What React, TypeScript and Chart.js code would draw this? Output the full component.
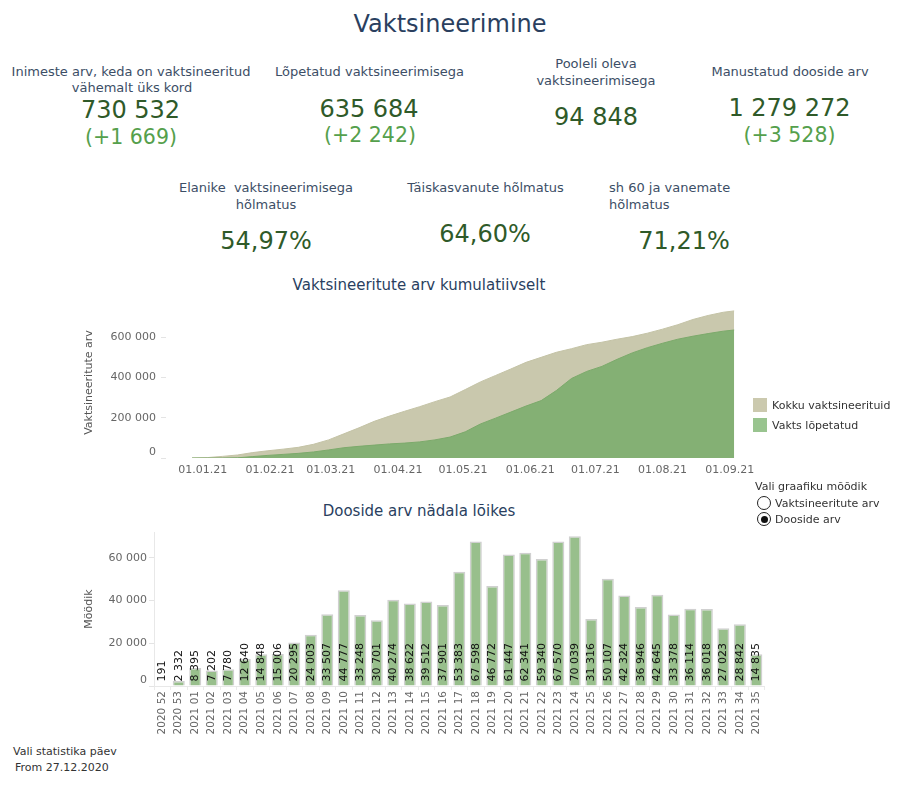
import React, { useEffect, useRef } from 'react';
import { Chart, registerables } from 'chart.js';

Chart.register(...registerables);
Chart.defaults.font.family = '"DejaVu Sans", sans-serif';

// ---------- data ----------
const cumDates = [
  '2020-12-27', '2021-01-03', '2021-01-10', '2021-01-17', '2021-01-24', '2021-01-31',
  '2021-02-07', '2021-02-14', '2021-02-21', '2021-02-28', '2021-03-07', '2021-03-14',
  '2021-03-21', '2021-03-28', '2021-04-04', '2021-04-11', '2021-04-18', '2021-04-25',
  '2021-05-02', '2021-05-09', '2021-05-16', '2021-05-23', '2021-05-30', '2021-06-06',
  '2021-06-13', '2021-06-20', '2021-06-27', '2021-07-04', '2021-07-11', '2021-07-18',
  '2021-07-25', '2021-08-01', '2021-08-08', '2021-08-15', '2021-08-22', '2021-08-29',
  '2021-09-03',
];
const cumTotal = [
  0, 2000, 8000, 15000, 27000, 36000,
  44000, 53000, 68000, 90000, 120000, 150000,
  182000, 208000, 232000, 255000, 280000, 303000,
  340000, 378000, 410000, 442000, 475000, 500000,
  525000, 543000, 563000, 575000, 590000, 603000,
  620000, 640000, 662000, 688000, 708000, 724000,
  730532,
];
const cumDone = [
  0, 0, 0, 1000, 7000, 13000,
  18000, 23000, 30000, 40000, 51000, 58000,
  64000, 70000, 74000, 80000, 90000, 104000,
  130000, 169000, 198000, 228000, 258000, 285000,
  335000, 395000, 430000, 455000, 490000, 522000,
  548000, 570000, 590000, 605000, 618000, 630000,
  635684,
];
const monthTicks = [
  '2021-01-01', '2021-02-01', '2021-03-01', '2021-04-01', '2021-05-01',
  '2021-06-01', '2021-07-01', '2021-08-01', '2021-09-01',
];
const areaYTicks = [0, 200000, 400000, 600000];

const weekLabels = [
  '2020 52', '2020 53', '2021 01', '2021 02', '2021 03', '2021 04', '2021 05', '2021 06',
  '2021 07', '2021 08', '2021 09', '2021 10', '2021 11', '2021 12', '2021 13', '2021 14',
  '2021 15', '2021 16', '2021 17', '2021 18', '2021 19', '2021 20', '2021 21', '2021 22',
  '2021 23', '2021 24', '2021 25', '2021 26', '2021 27', '2021 28', '2021 29', '2021 30',
  '2021 31', '2021 32', '2021 33', '2021 34', '2021 35',
];
const weeklyDoses = [
  191, 2332, 8395, 7202, 7780, 12640, 14848, 15006,
  20295, 24003, 33507, 44777, 33248, 30701, 40274, 38622,
  39512, 37901, 53383, 67598, 46772, 61447, 62341, 59340,
  67570, 70039, 31316, 50107, 42324, 36946, 42645, 33378,
  36114, 36018, 27023, 28842, 14835,
];
const barYTicks = [0, 20000, 40000, 60000];

// ---------- helpers ----------
const fmt = (n: number) => String(n).replace(/\B(?=(\d{3})+(?!\d))/g, ' ');
const dayIdx = (s: string) => {
  const [y, m, d] = s.split('-').map(Number);
  return (Date.UTC(y, m - 1, d) - Date.UTC(2021, 0, 1)) / 86400000;
};
const dateLabel = (s: string) => `${s.slice(8, 10)}.${s.slice(5, 7)}.${s.slice(2, 4)}`;

const TITLE = '#2a3f5f';
const LABEL = '#3c4e66';
const VALUE = '#2f5a29';
const DELTA = '#55a04c';

type TProps = { x: number; y: number; size: number; color: string; align?: 'center' | 'left'; children: React.ReactNode };
const T = ({ x, y, size, color, align = 'center', children }: TProps) => (
  <div
    style={{
      position: 'absolute',
      left: x,
      top: y,
      transform: align === 'center' ? 'translate(-50%, -50%)' : 'translate(0, -50%)',
      fontSize: size,
      lineHeight: 1,
      color,
      whiteSpace: 'nowrap',
      fontFamily: '"DejaVu Sans", sans-serif',
    }}
  >
    {children}
  </div>
);

const barLabelPlugin = {
  id: 'barLabels',
  afterDatasetsDraw(chart: any) {
    const ctx = chart.ctx;
    const meta = chart.getDatasetMeta(0);
    ctx.save();
    ctx.font = '11px "DejaVu Sans", sans-serif';
    ctx.fillStyle = '#111';
    ctx.textAlign = 'left';
    ctx.textBaseline = 'middle';
    meta.data.forEach((el: any, i: number) => {
      const { x, base } = el.getProps(['x', 'base'], true);
      ctx.save();
      ctx.translate(x, base - 4);
      ctx.rotate(-Math.PI / 2);
      ctx.fillText(fmt(weeklyDoses[i]), 0, 0);
      ctx.restore();
    });
    ctx.restore();
  },
};

// the "0" tick label sits a little above its tick in the original
const zeroLabelPlugin = {
  id: 'zeroLabel',
  afterDraw(chart: any) {
    const y = chart.scales.y;
    const ctx = chart.ctx;
    ctx.save();
    ctx.font = '11px "DejaVu Sans", sans-serif';
    ctx.fillStyle = '#666';
    ctx.textAlign = 'right';
    ctx.textBaseline = 'middle';
    const gap = y.options.grid.tickLength + y.options.ticks.padding;
    ctx.fillText('0', y.right - gap, y.getPixelForValue(0) - 6);
    ctx.restore();
  },
};

const tickFmt = (v: any) => (Number(v) === 0 ? '' : fmt(Number(v)));

export default function App() {
  const areaRef = useRef<HTMLCanvasElement>(null);
  const barRef = useRef<HTMLCanvasElement>(null);

  useEffect(() => {
    const tickMap = new Map(monthTicks.map((d) => [dayIdx(d), dateLabel(d)]));
    const area = new Chart(areaRef.current!, {
      type: 'line',
      data: {
        datasets: [
          {
            label: 'Kokku vaktsineerituid',
            data: cumDates.map((d, i) => ({ x: dayIdx(d), y: cumTotal[i] })),
            backgroundColor: '#c9c8ad',
            borderColor: '#c4c3a6',
            borderWidth: 1,
            fill: 'origin',
            pointRadius: 0,
            tension: 0,
            order: 2,
          },
          {
            label: 'Vakts lõpetatud',
            data: cumDates.map((d, i) => ({ x: dayIdx(d), y: cumDone[i] })),
            backgroundColor: '#84b074',
            borderColor: '#7caa6b',
            borderWidth: 1,
            fill: 'origin',
            pointRadius: 0,
            tension: 0,
            order: 1,
          },
        ],
      },
      options: {
        animation: false,
        responsive: false,
        events: [],
        layout: { padding: { top: 17, right: 35, left: 0, bottom: 0 } },
        plugins: { legend: { display: false }, tooltip: { enabled: false } },
        scales: {
          x: {
            type: 'linear',
            min: -17,
            max: 250,
            afterBuildTicks: (s: any) => {
              s.ticks = monthTicks.map((d) => ({ value: dayIdx(d) }));
            },
            afterFit: (s: any) => {
              s.height = 22;
            },
            ticks: {
              autoSkip: false,
              maxRotation: 0,
              padding: 6,
              color: '#666',
              font: { size: 11 },
              callback: (v: any) => tickMap.get(Number(v)) ?? '',
            },
            grid: { display: false, drawTicks: false },
            border: { display: false },
          },
          y: {
            min: 0,
            max: 750000,
            afterBuildTicks: (s: any) => {
              s.ticks = areaYTicks.map((v) => ({ value: v }));
            },
            afterFit: (s: any) => {
              s.width = 86;
            },
            ticks: { padding: 5, color: '#666', font: { size: 11 }, callback: tickFmt },
            grid: { drawOnChartArea: false, drawTicks: true, tickLength: 5, color: '#e4e4e4' },
            border: { display: false },
            title: { display: true, text: 'Vaktsineeritute arv', color: '#555', font: { size: 11 }, padding: { top: 3, bottom: 3 } },
          },
        },
      },
      plugins: [zeroLabelPlugin],
    });

    const bar = new Chart(barRef.current!, {
      type: 'bar',
      data: {
        labels: weekLabels,
        datasets: [
          {
            label: 'Dooside arv',
            data: weeklyDoses,
            backgroundColor: '#98bf8c',
            borderColor: '#d0d0d0',
            borderWidth: 1.5,
            barPercentage: 0.73,
            categoryPercentage: 1,
          },
        ],
      },
      options: {
        animation: false,
        responsive: false,
        events: [],
        layout: { padding: { top: 12, right: 5, left: 0, bottom: 0 } },
        plugins: { legend: { display: false }, tooltip: { enabled: false } },
        scales: {
          x: {
            afterFit: (s: any) => {
              s.height = 54;
            },
            ticks: { autoSkip: false, minRotation: 90, maxRotation: 90, padding: 1, color: '#666', font: { size: 10.5 } },
            grid: { drawOnChartArea: false, drawTicks: true, tickLength: 4, color: '#ebebeb', offset: true },
            border: { display: true, color: '#e8e8e8' },
          },
          y: {
            min: 0,
            max: 72000,
            afterBuildTicks: (s: any) => {
              s.ticks = barYTicks.map((v) => ({ value: v }));
            },
            afterFit: (s: any) => {
              s.width = 74;
            },
            ticks: { padding: 2, color: '#666', font: { size: 11 }, callback: tickFmt },
            grid: { drawOnChartArea: false, drawTicks: true, tickLength: 5, color: '#e4e4e4' },
            border: { display: true, color: '#e8e8e8' },
            title: { display: true, text: 'Möödik', color: '#555', font: { size: 11 }, padding: { top: 3, bottom: 3 } },
          },
        },
      },
      plugins: [barLabelPlugin, zeroLabelPlugin],
    });

    return () => {
      area.destroy();
      bar.destroy();
    };
  }, []);

  const swatch = (top: number, color: string) => (
    <div style={{ position: 'absolute', left: 753, top, width: 14, height: 14, background: color }} />
  );
  const radio = (cy: number, checked: boolean) => (
    <div
      style={{
        position: 'absolute',
        left: 757,
        top: cy - 7,
        width: 12,
        height: 12,
        borderRadius: '50%',
        border: '1.5px solid #222',
        background: '#fff',
      }}
    >
      {checked && (
        <div style={{ position: 'absolute', left: 2.5, top: 2.5, width: 7, height: 7, borderRadius: '50%', background: '#111' }} />
      )}
    </div>
  );

  return (
    <div
      style={{
        position: 'absolute',
        left: 0,
        top: 0,
        width: 900,
        height: 800,
        background: '#fff',
        overflow: 'hidden',
        fontFamily: '"DejaVu Sans", sans-serif',
      }}
    >
      <T x={450} y={24} size={24} color={TITLE}>Vaktsineerimine</T>

      <T x={131} y={71} size={13} color={LABEL}>Inimeste arv, keda on vaktsineeritud</T>
      <T x={132} y={87} size={13} color={LABEL}>vähemalt üks kord</T>
      <T x={130.5} y={110} size={24} color={VALUE}>730 532</T>
      <T x={131} y={137} size={20.5} color={DELTA}>(+1 669)</T>

      <T x={369.5} y={71} size={13} color={LABEL}>Lõpetatud vaktsineerimisega</T>
      <T x={369} y={108.5} size={24} color={VALUE}>635 684</T>
      <T x={370} y={135} size={20.5} color={DELTA}>(+2 242)</T>

      <T x={596} y={63} size={13} color={LABEL}>Pooleli oleva</T>
      <T x={596} y={80} size={13} color={LABEL}>vaktsineerimisega</T>
      <T x={596} y={117} size={24} color={VALUE}>94 848</T>

      <T x={790} y={71} size={13} color={LABEL}>Manustatud dooside arv</T>
      <T x={789.5} y={108} size={24} color={VALUE}>1 279 272</T>
      <T x={789.5} y={135} size={20.5} color={DELTA}>(+3 528)</T>

      <T x={266} y={187} size={13} color={LABEL}>Elanike&nbsp; vaktsineerimisega</T>
      <T x={266} y={204} size={13} color={LABEL}>hõlmatus</T>
      <T x={266} y={241} size={24} color={VALUE}>54,97%</T>

      <T x={485.5} y={187} size={13} color={LABEL}>Täiskasvanute hõlmatus</T>
      <T x={485} y={234} size={24} color={VALUE}>64,60%</T>

      <T x={609} y={187} size={13} color={LABEL} align="left">sh 60 ja vanemate</T>
      <T x={609} y={204} size={13} color={LABEL} align="left">hõlmatus</T>
      <T x={684} y={241} size={24} color={VALUE}>71,21%</T>

      <T x={419} y={285} size={15} color={TITLE}>Vaktsineeritute arv kumulatiivselt</T>
      <canvas
        ref={areaRef}
        width={700}
        height={190}
        style={{ position: 'absolute', left: 80, top: 290, width: 700, height: 190 }}
      />
      {swatch(398, '#cbc9ae')}
      {swatch(418, '#99c48f')}
      <T x={772} y={405} size={11} color="#333" align="left">Kokku vaktsineerituid</T>
      <T x={772} y={425} size={11} color="#333" align="left">Vakts lõpetatud</T>

      <T x={755} y={486} size={11} color="#333" align="left">Vali graafiku mõõdik</T>
      {radio(502.5, false)}
      {radio(519, true)}
      <T x={775} y={502.5} size={11} color="#333" align="left">Vaktsineeritute arv</T>
      <T x={775} y={519} size={11} color="#333" align="left">Dooside arv</T>

      <T x={419} y={511} size={15} color={TITLE}>Dooside arv nädala lõikes</T>
      <canvas
        ref={barRef}
        width={690}
        height={220}
        style={{ position: 'absolute', left: 80, top: 520, width: 690, height: 220 }}
      />

      <T x={13} y={751} size={11} color="#333" align="left">Vali statistika päev</T>
      <T x={15} y={766.5} size={11} color="#333" align="left">From 27.12.2020</T>
    </div>
  );
}
